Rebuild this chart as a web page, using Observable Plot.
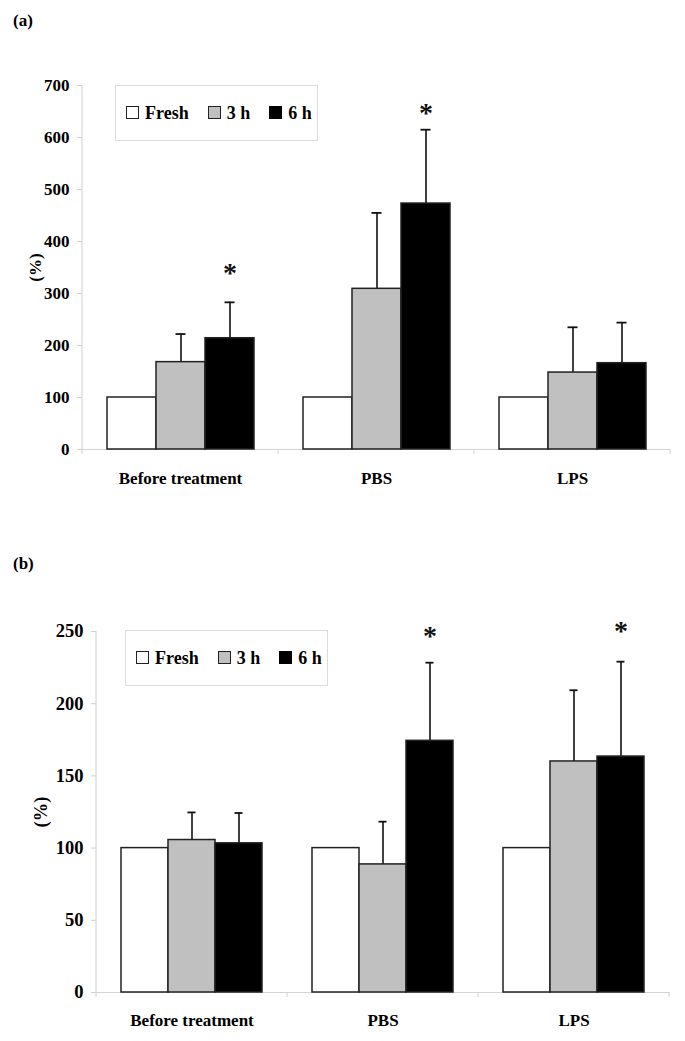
<!DOCTYPE html>
<html>
<head>
<meta charset="utf-8">
<script src="https://cdn.jsdelivr.net/npm/d3@7"></script>
<script src="https://cdn.jsdelivr.net/npm/@observablehq/plot@0.6"></script>
<style>
  html, body { margin: 0; padding: 0; background: #fff; }
  body { width: 685px; height: 1041px; position: relative; overflow: hidden;
         font-family: "Liberation Serif", "Times New Roman", serif; font-weight: bold; }
  .panel { position: absolute; left: 0; }
  .plabel { position: absolute; font-size: 17px; font-weight: bold; color: #000; z-index: 5; }
  .legend { position: absolute; width: 201px; height: 54px; border: 1px solid #dcdcdc;
            display: flex; align-items: center; box-sizing: content-box; z-index: 5; background: #fff; }
  .item { display: flex; align-items: center; font-size: 18px; color: #000; }
  .sw { width: 11px; height: 11px; border: 1px solid #222; margin-right: 6px; margin-top: -2px; }
</style>
</head>
<body>
<div id="pa" class="panel" style="top:0px;"></div>
<div id="pb" class="panel" style="top:520px;"></div>
<div class="plabel" style="left:13px; top:11px;">(a)</div>
<div class="plabel" style="left:13px; top:554px;">(b)</div>
<div id="la" class="legend" style="left:115px; top:85px;"></div>
<div id="lb" class="legend" style="left:125px; top:630px;"></div>
<script>
// ---- data ----
const categories = ["Before treatment", "PBS", "LPS"];
const series = ["Fresh", "3 h", "6 h"];
const seriesColors = ["#ffffff", "#c0c0c0", "#000000"];

// panel (a)
const aFresh = [100, 100, 100];
const a3h = [168, 309, 148];
const a6h = [214, 473, 166];
const aFreshErr = [0, 0, 0];
const a3hErr = [54, 146, 87];
const a6hErr = [69, 142, 78];
const aStars = [{cat: "Before treatment", y: 349}, {cat: "PBS", y: 657}];
const aTicks = [0, 100, 200, 300, 400, 500, 600, 700];

// panel (b)
const bFresh = [100, 100, 100];
const b3h = [105.6, 88.7, 160];
const b6h = [103.3, 174.3, 163.4];
const bFreshErr = [0, 0, 0];
const b3hErr = [19.1, 29.6, 49.3];
const b6hErr = [21, 54.1, 65.7];
const bStars = [{cat: "PBS", y: 250}, {cat: "LPS", y: 254}];
const bTicks = [0, 50, 100, 150, 200, 250];

function rows(vals, errs) {
  const out = [];
  categories.forEach((c, i) => {
    series.forEach((s, j) => {
      out.push({cat: c, series: s, value: vals[j][i], err: errs[j][i], top: vals[j][i] + errs[j][i]});
    });
  });
  return out;
}

const FONT = '"Liberation Serif", "Times New Roman", serif';

function makePanel(data, stars, opts) {
  const withErr = data.filter(d => d.err > 0);
  const plot = Plot.plot({
    width: 685,
    height: opts.height,
    marginLeft: opts.marginLeft,
    marginRight: 15,
    marginTop: opts.marginTop,
    marginBottom: opts.marginBottom,
    style: {fontFamily: FONT, fontWeight: "bold", background: "white", overflow: "visible"},
    fx: {domain: categories, padding: 0},
    x: {domain: series, paddingInner: 0, paddingOuter: 0.5, axis: null},
    y: {domain: opts.domain, label: "(%)"},
    color: {domain: series, range: seriesColors},
    marks: [
      Plot.ruleY([0], {stroke: "#d4d4d4", strokeWidth: 1}),
      Plot.ruleX(withErr, {fx: "cat", x: "series", y1: "value", y2: "top", stroke: "#111", strokeWidth: 1.6}),
      Plot.tickY(withErr, {fx: "cat", x: "series", y: "top", stroke: "#111", strokeWidth: 1.8, insetLeft: 19.5, insetRight: 19.5}),
      Plot.barY(data, {fx: "cat", x: "series", y: "value", fill: "series", stroke: "#222", strokeWidth: 1.5}),
      Plot.text(stars, {fx: "cat", x: () => "6 h", y: "y", text: () => "*", fontSize: 28, fontWeight: "bold", lineAnchor: "middle", dy: 5, fill: "#111"}),
      Plot.axisY(opts.ticks, {
        tickSize: 5, stroke: "#d0d0d0", fill: "#000", fontSize: opts.tickFont, fontWeight: "bold",
        tickPadding: 8, tickFormat: d => String(d),
        label: "(%)", labelAnchor: "center", labelArrow: "none", labelOffset: opts.labelOffset
      }),
      Plot.axisFx({anchor: "bottom", tickSize: 0, tickPadding: opts.fxPad, fontSize: 17, fontWeight: "bold", fill: "#000", label: null})
    ]
  });
  // light axis line and between-category ticks, placed from the plot's own scales
  const y = plot.scale("y");
  const fx = plot.scale("fx");
  const svg = d3.select(plot);
  const g = svg.append("g").attr("stroke", "#d0d0d0").attr("stroke-width", 1);
  const x0 = fx.apply(categories[0]);
  g.append("line").attr("x1", x0).attr("x2", x0).attr("y1", y.apply(opts.domain[0])).attr("y2", y.apply(opts.domain[1]));
  const bounds = categories.map(c => fx.apply(c)).concat([fx.apply(categories[categories.length - 1]) + fx.bandwidth]);
  bounds.forEach(bx => {
    g.append("line").attr("x1", bx).attr("x2", bx).attr("y1", y.apply(0)).attr("y2", y.apply(0) + 5);
  });
  return plot;
}

const pa = makePanel(rows([aFresh, a3h, a6h], [aFreshErr, a3hErr, a6hErr]), aStars, {
  height: 500, marginLeft: 82, marginTop: 85, marginBottom: 51, domain: [0, 700],
  ticks: aTicks, tickFont: 17, labelOffset: 54, fxPad: 22
});
document.getElementById("pa").appendChild(pa);

const pb = makePanel(rows([bFresh, b3h, b6h], [bFreshErr, b3hErr, b6hErr]), bStars, {
  height: 521, marginLeft: 95, marginTop: 111, marginBottom: 49, domain: [0, 250],
  ticks: bTicks, tickFont: 18.5, labelOffset: 63, fxPad: 21
});
document.getElementById("pb").appendChild(pb);

function legend(id) {
  const el = document.getElementById(id);
  series.forEach((s, i) => {
    const it = document.createElement("div");
    it.className = "item";
    it.style.marginLeft = i === 0 ? "10px" : "19px";
    const sw = document.createElement("div");
    sw.className = "sw";
    sw.style.background = seriesColors[i];
    if (i === 2) sw.style.borderColor = "#000";
    const t = document.createElement("span");
    t.textContent = s;
    it.appendChild(sw);
    it.appendChild(t);
    el.appendChild(it);
  });
}
legend("la");
legend("lb");
</script>
</body>
</html>
